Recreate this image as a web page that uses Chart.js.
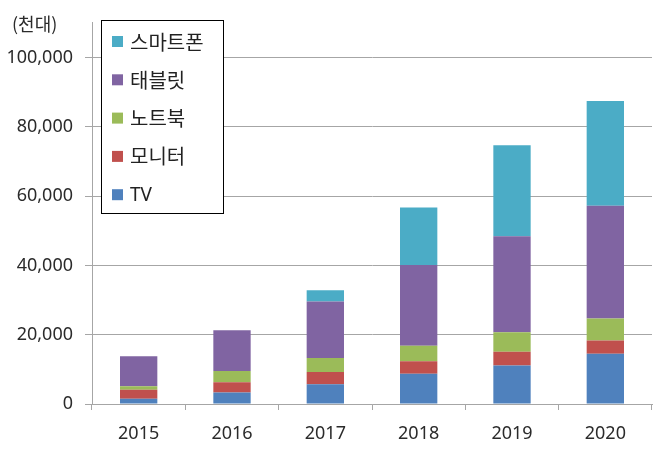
<!DOCTYPE html>
<html>
<head>
<meta charset="utf-8">
<script src="https://cdn.jsdelivr.net/npm/chart.js@4/dist/chart.umd.min.js"></script>
<style>
  body { margin: 0; background: #fff; }
</style>
</head>
<body>
<canvas id="myChart" width="665" height="457"></canvas>
<script>
const years = ['2015', '2016', '2017', '2018', '2019', '2020'];
const tv = [1500, 3300, 5700, 8700, 11100, 14500];
const monitor = [2600, 3000, 3500, 3600, 4000, 3800];
const notebook = [1000, 3200, 4100, 4500, 5600, 6400];
const tablet = [8700, 11800, 16300, 23300, 27700, 32500];
const smartphone = [0, 0, 3200, 16600, 26300, 30200];
const unitLabel = '(천대)';

const numFont = '"Noto Sans", sans-serif';
const krFont = '"Noto Sans CJK KR", sans-serif';
const textColor = '#2b2b2b';
const gridColor = '#a6a6a6';

const data = {
  labels: years,
  datasets: [
    { label: 'TV', data: tv, backgroundColor: '#4f81bd' },
    { label: '모니터', data: monitor, backgroundColor: '#c0504d' },
    { label: '노트북', data: notebook, backgroundColor: '#9bbb59' },
    { label: '태블릿', data: tablet, backgroundColor: '#8064a2' },
    { label: '스마트폰', data: smartphone, backgroundColor: '#4bacc6' }
  ]
};

// only every 20,000 gets a label and a gridline
const isMajor = (v) => Math.abs(v % 20000) < 1;

// legend box drawn inside the plot, top-left
const boxLegend = {
  id: 'boxLegend',
  afterDraw(chart) {
    const { ctx } = chart;
    const x = 101, y = 20, w = 122, h = 193;
    ctx.save();
    ctx.fillStyle = '#ffffff';
    ctx.fillRect(x, y, w, h);
    ctx.strokeStyle = '#000000';
    ctx.lineWidth = 1;
    ctx.strokeRect(x + 0.5, y + 0.5, w, h);

    const items = chart.data.datasets.slice().reverse();
    ctx.textBaseline = 'middle';
    ctx.textAlign = 'left';
    items.forEach((ds, i) => {
      const cy = 42 + i * 38.3;
      ctx.fillStyle = ds.backgroundColor;
      ctx.fillRect(112, cy - 6, 11, 11);
      ctx.fillStyle = '#222222';
      ctx.font = ds.label === 'TV' ? '19px ' + numFont : '20px ' + krFont;
      ctx.fillText(ds.label, 130, cy);
    });

    // unit label
    ctx.font = '18px ' + krFont;
    ctx.fillStyle = textColor;
    ctx.fillText(unitLabel, 12, 24);
    ctx.restore();
  }
};

const config = {
  type: 'bar',
  data,
  options: {
    responsive: false,
    animation: false,
    layout: { padding: { top: 19, right: 13, left: 0, bottom: 0 } },
    datasets: {
      bar: { categoryPercentage: 1.0, barPercentage: 0.4 }
    },
    plugins: {
      legend: { display: false },
      tooltip: { enabled: false }
    },
    scales: {
      x: {
        stacked: true,
        offset: true,
        grid: {
          offset: true,
          drawOnChartArea: false,
          color: gridColor,
          tickLength: 6
        },
        border: { color: gridColor },
        ticks: {
          color: textColor,
          font: { family: numFont, size: 18 },
          padding: 13
        },
        afterFit(scale) { scale.height = 53; }
      },
      y: {
        stacked: true,
        min: 0,
        max: 110000,
        grid: {
          color: (c) => (c.tick && isMajor(c.tick.value)) ? gridColor : 'rgba(0,0,0,0)',
          tickLength: 7
        },
        border: { color: gridColor },
        ticks: {
          stepSize: 10000,
          autoSkip: false,
          color: textColor,
          font: { family: numFont, size: 18 },
          padding: 12,
          callback: (v) => isMajor(v) ? v.toLocaleString('en-US') : ''
        },
        afterFit(scale) { scale.width = 92; }
      }
    }
  },
  plugins: [boxLegend]
};

const myChart = new Chart(document.getElementById('myChart'), config);
</script>
</body>
</html>
